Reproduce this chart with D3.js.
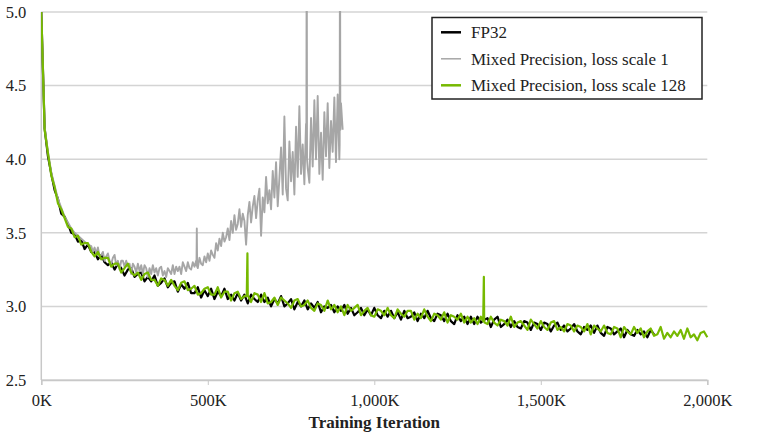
<!DOCTYPE html>
<html><head><meta charset="utf-8">
<script src="https://cdn.jsdelivr.net/npm/d3@7"></script>
<style>body{margin:0;background:#fff}svg{display:block}</style>
</head><body><svg id="c" width="767" height="446"></svg>
<script>
// ---- data (iterations in K) ----
const xTicks = [0, 500, 1000, 1500, 2000];
const xTickLabels = ["0K", "500K", "1,000K", "1,500K", "2,000K"];
const yTicks = [2.5, 3.0, 3.5, 4.0, 4.5, 5.0];
const yTickLabels = ["2.5", "3.0", "3.5", "4.0", "4.5", "5.0"];
const seriesNames = ["FP32", "Mixed Precision, loss scale 1", "Mixed Precision, loss scale 128"];
const xTitle = "Training Iteration";

// FP32: every 10K from 0K to 1840K
const fp32Step = 10;
const fp32Values = [
5.00,4.21,4.02,3.90,3.79,3.73,3.63,3.61,3.56,3.50,
3.49,3.44,3.45,3.39,3.42,3.37,3.37,3.32,3.35,3.30,
3.28,3.30,3.25,3.29,3.26,3.21,3.25,3.26,3.20,3.22,
3.23,3.17,3.20,3.17,3.21,3.14,3.16,3.19,3.13,3.16,
3.17,3.10,3.15,3.12,3.16,3.09,3.09,3.13,3.06,3.11,
3.07,3.12,3.05,3.10,3.07,3.12,3.05,3.08,3.04,3.09,
3.04,3.08,3.02,3.08,3.05,3.03,3.08,3.03,3.06,3.00,
3.05,3.02,3.07,3.00,3.02,3.05,2.98,3.03,3.00,3.04,
2.98,3.02,2.99,3.03,2.96,3.00,2.99,3.01,2.96,3.00,
2.97,3.01,2.95,2.99,2.94,2.96,2.99,2.94,2.98,2.94,
2.99,2.94,2.92,2.97,2.93,2.97,2.92,2.96,2.91,2.97,
2.92,2.93,2.96,2.90,2.95,2.92,2.97,2.92,2.90,2.95,
2.94,2.90,2.95,2.90,2.88,2.94,2.90,2.93,2.88,2.93,
2.88,2.93,2.89,2.91,2.92,2.86,2.91,2.93,2.86,2.88,
2.91,2.86,2.90,2.86,2.85,2.90,2.89,2.84,2.89,2.88,
2.84,2.89,2.88,2.83,2.87,2.89,2.84,2.87,2.83,2.85,
2.88,2.83,2.81,2.86,2.84,2.87,2.82,2.87,2.82,2.80,
2.86,2.85,2.81,2.83,2.85,2.79,2.84,2.81,2.80,2.84,
2.81,2.83,2.79,2.84,2.81];

// Mixed precision, loss scale 128: every 10K from 0K to 2000K
const mp128Step = 10;
const mp128Values = [
5.00,4.20,4.04,3.89,3.81,3.70,3.66,3.60,3.54,3.53,
3.47,3.48,3.42,3.43,3.43,3.37,3.34,3.37,3.32,3.33,
3.33,3.27,3.29,3.29,3.23,3.26,3.29,3.23,3.21,3.23,
3.18,3.22,3.23,3.18,3.18,3.14,3.19,3.18,3.14,3.18,
3.14,3.11,3.16,3.17,3.11,3.12,3.14,3.08,3.09,3.12,
3.13,3.08,3.08,3.13,3.06,3.10,3.10,3.04,3.09,3.10,
3.05,3.07,3.07,3.03,3.09,3.08,3.03,3.09,3.02,3.03,
3.06,3.01,3.06,3.04,3.02,2.99,3.04,3.05,3.00,3.01,
3.04,2.99,2.97,3.02,3.01,2.97,3.04,2.98,3.01,2.96,
3.00,2.94,3.01,2.97,2.99,3.01,2.94,2.97,2.99,2.94,
2.93,2.98,2.97,2.94,2.99,2.94,2.92,2.98,2.95,2.93,
2.97,2.97,2.91,2.95,2.92,2.98,2.93,2.90,2.95,2.94,
2.91,2.96,2.89,2.94,2.93,2.91,2.95,2.89,2.93,2.89,
2.92,2.88,2.93,2.90,2.88,2.93,2.89,2.87,2.91,2.90,
2.87,2.93,2.86,2.89,2.90,2.87,2.84,2.91,2.88,2.85,
2.90,2.86,2.84,2.89,2.90,2.84,2.86,2.83,2.88,2.87,
2.83,2.87,2.86,2.83,2.88,2.81,2.87,2.85,2.83,2.87,
2.82,2.81,2.86,2.85,2.79,2.86,2.83,2.81,2.86,2.82,
2.85,2.79,2.83,2.85,2.80,2.81,2.86,2.78,2.82,2.79,
2.83,2.80,2.84,2.78,2.85,2.79,2.81,2.77,2.82,2.83,
2.79];
const mp128Spikes = [[617,3.07],[619,3.36],[621,3.07],[1327,2.90],[1329,3.20],[1331,2.89]];

// Mixed precision, loss scale 1: every 10K from 0K to 140K, then every 5K from 150K to 905K
const mp1EarlyStep = 10;
const mp1Early = [5.00,4.22,4.05,3.91,3.82,3.73,3.67,3.61,3.57,3.53,3.50,3.48,3.46,3.44,3.42];
const mp1LateStart = 150, mp1LateStep = 5;
const mp1Late = [
3.41,3.37,3.40,3.36,3.40,3.34,3.35,3.37,3.31,3.34,
3.36,3.31,3.29,3.33,3.35,3.28,3.31,3.25,3.31,3.31,
3.27,3.31,3.27,3.29,3.22,3.29,3.27,3.23,3.29,3.24,
3.28,3.22,3.28,3.26,3.20,3.26,3.22,3.28,3.23,3.26,
3.21,3.26,3.27,3.21,3.24,3.20,3.26,3.24,3.22,3.28,
3.22,3.27,3.24,3.27,3.22,3.30,3.27,3.24,3.30,3.26,
3.25,3.30,3.27,3.31,3.26,3.33,3.29,3.28,3.34,3.30,
3.36,3.31,3.38,3.35,3.33,3.43,3.38,3.46,3.41,3.50,
3.44,3.47,3.53,3.45,3.58,3.50,3.62,3.52,3.56,3.66,
3.54,3.63,3.58,3.42,3.62,3.71,3.57,3.68,3.75,3.60,
3.72,3.80,3.48,3.74,3.64,3.88,3.70,3.79,3.66,3.92,
3.74,3.98,3.68,3.87,4.08,3.76,4.29,3.80,3.72,4.12,
3.85,4.05,3.76,4.22,3.88,4.36,3.90,4.10,3.83,4.24,
3.94,3.84,4.28,3.95,4.40,4.00,4.43,3.90,4.18,3.86,
4.32,4.02,4.38,3.94,4.26,4.05,4.42,3.98,4.44,4.00,
4.38,4.20];
const mp1Spikes = [[466,3.28],[467,3.53],[468,3.27],[796,4.05],[797,5.8],[798,4.0],[896,4.1],[897,5.8],[898,4.2]];

// ---- build point lists ----
function pts(start, step, vals) { return vals.map((v, i) => [start + i * step, v]); }
function merge(...lists) { return [].concat(...lists).sort((a, b) => a[0] - b[0]); }
const fp32 = pts(0, fp32Step, fp32Values);
const mp128 = merge(pts(0, mp128Step, mp128Values), mp128Spikes);
const mp1 = merge(pts(0, mp1EarlyStep, mp1Early), pts(mp1LateStart, mp1LateStep, mp1Late), mp1Spikes);

// ---- chart ----
const svg = d3.select("#c");
const font = "'Liberation Serif','Times New Roman',serif";
const x = d3.scaleLinear().domain([0, 2000]).range([41.3, 707.3]);
const y = d3.scaleLinear().domain([2.5, 5.0]).range([380, 12]);

svg.append("defs").append("clipPath").attr("id", "clip")
  .append("rect").attr("x", 41).attr("y", 11).attr("width", 670).attr("height", 372);

// gridlines
svg.append("g").selectAll("line").data(yTicks).join("line")
  .attr("x1", x(0)).attr("x2", x(2000))
  .attr("y1", d => y(d)).attr("y2", d => y(d))
  .attr("stroke", "#d4d4d4").attr("stroke-width", 1.5);

// left axis line
svg.append("line").attr("x1", x(0)).attr("x2", x(0)).attr("y1", y(5)).attr("y2", y(2.5))
  .attr("stroke", "#c8c8c8").attr("stroke-width", 1.5);

// x axis
const xAxis = d3.axisBottom(x).tickValues(xTicks).tickFormat((d, i) => xTickLabels[i]).tickSize(5).tickPadding(9);
const gx = svg.append("g").attr("transform", `translate(0,${y(2.5)})`).call(xAxis);
gx.select(".domain").attr("stroke", "#c8c8c8").attr("stroke-width", 1.5);
gx.selectAll(".tick line").attr("stroke", "#c8c8c8");
gx.selectAll(".tick text").attr("font-family", font).attr("font-size", 16.5).attr("fill", "#222");

// y axis labels
const yAxis = d3.axisLeft(y).tickValues(yTicks).tickFormat((d, i) => yTickLabels[i]).tickSize(0).tickPadding(15);
const gy = svg.append("g").attr("transform", `translate(${x(0)},0)`).call(yAxis);
gy.select(".domain").remove();
gy.selectAll(".tick text").attr("font-family", font).attr("font-size", 16.5).attr("fill", "#222");

// x title
svg.append("text").attr("x", x(1000)).attr("y", 428).attr("text-anchor", "middle")
  .attr("font-family", font).attr("font-weight", "bold").attr("font-size", 17).attr("fill", "#222")
  .text(xTitle);

// series
const line = d3.line().x(d => x(d[0])).y(d => y(d[1]));
const plot = svg.append("g").attr("clip-path", "url(#clip)");
plot.append("path").datum(fp32).attr("d", line).attr("fill", "none").attr("stroke", "#000").attr("stroke-width", 2.2).attr("stroke-linejoin", "round");
plot.append("path").datum(mp1).attr("d", line).attr("fill", "none").attr("stroke", "#a6a6a6").attr("stroke-width", 1.9).attr("stroke-linejoin", "round");
plot.append("path").datum(mp128).attr("d", line).attr("fill", "none").attr("stroke", "#76b900").attr("stroke-width", 2.2).attr("stroke-linejoin", "round");

// legend
const lg = svg.append("g");
lg.append("rect").attr("x", 432).attr("y", 17.5).attr("width", 270).attr("height", 81.5)
  .attr("fill", "#fff").attr("stroke", "#222").attr("stroke-width", 1.5);
const legColors = ["#000", "#a6a6a6", "#76b900"];
const legWidths = [2.5, 1.5, 2.5];
seriesNames.forEach((name, i) => {
  const cy = 32.3 + i * 26.5;
  lg.append("line").attr("x1", 441).attr("x2", 461).attr("y1", cy).attr("y2", cy)
    .attr("stroke", legColors[i]).attr("stroke-width", legWidths[i]);
  lg.append("text").attr("x", 471).attr("y", cy + 6).attr("font-family", font).attr("font-size", 17).attr("fill", "#222").text(name);
});
</script></body></html>
